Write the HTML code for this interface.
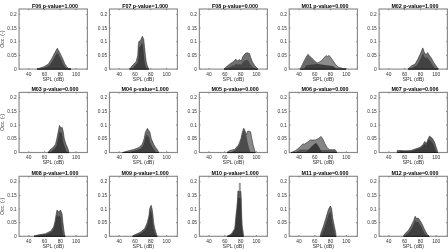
<!DOCTYPE html><html><head><meta charset="utf-8"><style>html,body{margin:0;padding:0;background:#fff;overflow:hidden}svg{display:block}text{font-family:"Liberation Sans",Arial,sans-serif;fill:#333}.t{fill:#000}</style></head><body>
<svg width="448" height="252" viewBox="0 0 448 252">
<rect width="448" height="252" fill="#fff"/>
<rect x="19.05" y="9" width="68.35" height="60.1" fill="none" stroke="#8a8a8a" stroke-width="1.15"/>
<path d="M19.05 69.1h1.2 M87.4 69.1h-1.2 M19.05 55.44h1.2 M87.4 55.44h-1.2 M19.05 41.78h1.2 M87.4 41.78h-1.2 M19.05 28.12h1.2 M87.4 28.12h-1.2 M19.05 14.46h1.2 M87.4 14.46h-1.2 M28.75 69.1v-1.2 M28.75 9v1.2 M44.55 69.1v-1.2 M44.55 9v1.2 M60.35 69.1v-1.2 M60.35 9v1.2 M76.15 69.1v-1.2 M76.15 9v1.2" stroke="#8a8a8a" stroke-width="1.15" fill="none"/>
<polygon points="37,69.1 44,66.7 48.4,64.1 51.6,59 54.8,52.7 57.3,48.3 59.8,52.7 62.8,59 64.9,64.1 66.8,66.7 68.1,68.3 71,69.1" fill="#6e6e6e" stroke="#2e2e2e" stroke-width="0.6" stroke-linejoin="round"/>
<polygon points="40.03,69.1 45.98,67.18 49.72,65.1 52.44,61.02 55.16,55.98 57.29,52.46 59.41,55.98 61.96,61.02 63.75,65.1 65.36,67.18 66.47,68.46 68.93,69.1" fill="#404040"/>
<path d="M37 69.1H71" stroke="#222" stroke-width="1.2"/>
<text x="16.75" y="69.1" font-size="4.85" text-anchor="end" dominant-baseline="central">0</text>
<text x="16.75" y="55.44" font-size="4.85" text-anchor="end" dominant-baseline="central">0.05</text>
<text x="16.75" y="41.78" font-size="4.85" text-anchor="end" dominant-baseline="central">0.1</text>
<text x="16.75" y="28.12" font-size="4.85" text-anchor="end" dominant-baseline="central">0.15</text>
<text x="16.75" y="14.46" font-size="4.85" text-anchor="end" dominant-baseline="central">0.2</text>
<text x="28.75" y="75.5" font-size="4.85" text-anchor="middle">40</text>
<text x="44.55" y="75.5" font-size="4.85" text-anchor="middle">60</text>
<text x="60.35" y="75.5" font-size="4.85" text-anchor="middle">80</text>
<text x="76.15" y="75.5" font-size="4.85" text-anchor="middle">100</text>
<text x="53.23" y="80.9" font-size="5.4" text-anchor="middle">SPL (dB)</text>
<text x="54.93" y="7.6" font-size="5.35" font-weight="bold" text-anchor="middle" class="t">F06 p-value=1.000</text>
<text transform="translate(4.4 39.15) rotate(-90)" font-size="5.15" text-anchor="middle">Occ. (-)</text>
<rect x="109.45" y="9" width="67.95" height="60.1" fill="none" stroke="#8a8a8a" stroke-width="1.15"/>
<path d="M109.45 69.1h1.2 M177.4 69.1h-1.2 M109.45 55.44h1.2 M177.4 55.44h-1.2 M109.45 41.78h1.2 M177.4 41.78h-1.2 M109.45 28.12h1.2 M177.4 28.12h-1.2 M109.45 14.46h1.2 M177.4 14.46h-1.2 M119.15 69.1v-1.2 M119.15 9v1.2 M134.95 69.1v-1.2 M134.95 9v1.2 M150.75 69.1v-1.2 M150.75 9v1.2 M166.55 69.1v-1.2 M166.55 9v1.2" stroke="#8a8a8a" stroke-width="1.15" fill="none"/>
<polygon points="129.5,69.1 132.8,65 136.2,61.7 137.8,55 138.2,46.7 138.7,41.7 140.5,40.5 142.3,36.3 143.7,39.2 144.5,46.7 145.3,55 146.2,61.7 147,65 148.7,69.1" fill="#6a6a6a" stroke="#2e2e2e" stroke-width="0.6" stroke-linejoin="round"/>
<polygon points="132.33,69.1 134.8,65.82 137.35,63.18 138.55,57.82 138.85,51.18 139.23,47.18 140.58,46.22 141.93,42.86 142.98,45.18 143.58,51.18 144.18,57.82 144.85,63.18 145.45,65.82 146.73,69.1" fill="#3c3c3c"/>
<path d="M129.5 69.1H148.7" stroke="#222" stroke-width="1.2"/>
<text x="107.15" y="69.1" font-size="4.85" text-anchor="end" dominant-baseline="central">0</text>
<text x="107.15" y="55.44" font-size="4.85" text-anchor="end" dominant-baseline="central">0.05</text>
<text x="107.15" y="41.78" font-size="4.85" text-anchor="end" dominant-baseline="central">0.1</text>
<text x="107.15" y="28.12" font-size="4.85" text-anchor="end" dominant-baseline="central">0.15</text>
<text x="107.15" y="14.46" font-size="4.85" text-anchor="end" dominant-baseline="central">0.2</text>
<text x="119.15" y="75.5" font-size="4.85" text-anchor="middle">40</text>
<text x="134.95" y="75.5" font-size="4.85" text-anchor="middle">60</text>
<text x="150.75" y="75.5" font-size="4.85" text-anchor="middle">80</text>
<text x="166.55" y="75.5" font-size="4.85" text-anchor="middle">100</text>
<text x="143.43" y="80.9" font-size="5.4" text-anchor="middle">SPL (dB)</text>
<text x="145.12" y="7.6" font-size="5.35" font-weight="bold" text-anchor="middle" class="t">F07 p-value=1.000</text>
<rect x="199.35" y="9" width="68.05" height="60.1" fill="none" stroke="#8a8a8a" stroke-width="1.15"/>
<path d="M199.35 69.1h1.2 M267.4 69.1h-1.2 M199.35 55.44h1.2 M267.4 55.44h-1.2 M199.35 41.78h1.2 M267.4 41.78h-1.2 M199.35 28.12h1.2 M267.4 28.12h-1.2 M199.35 14.46h1.2 M267.4 14.46h-1.2 M209.05 69.1v-1.2 M209.05 9v1.2 M224.85 69.1v-1.2 M224.85 9v1.2 M240.65 69.1v-1.2 M240.65 9v1.2 M256.45 69.1v-1.2 M256.45 9v1.2" stroke="#8a8a8a" stroke-width="1.15" fill="none"/>
<polygon points="224,69.1 227.5,65.8 229.9,64 233.5,61.5 235.8,59.2 237.6,61 239.4,59.6 241.2,61 243,56.3 245.3,53.5 247.1,52.7 249.5,53.5 250.7,57.5 252.5,62.2 254.9,65.8 257.8,69.1" fill="#707070" stroke="#2e2e2e" stroke-width="0.6" stroke-linejoin="round"/>
<polygon points="226.68,69.1 229.65,67.28 231.69,66.3 234.75,64.92 236.71,63.66 238.24,64.64 239.77,63.88 241.3,64.64 242.83,62.06 244.78,60.52 246.31,60.08 248.35,60.52 249.37,62.72 250.9,65.3 252.94,67.28 255.41,69.1" fill="#474747"/>
<path d="M224 69.1H257.8" stroke="#222" stroke-width="1.2"/>
<text x="197.05" y="69.1" font-size="4.85" text-anchor="end" dominant-baseline="central">0</text>
<text x="197.05" y="55.44" font-size="4.85" text-anchor="end" dominant-baseline="central">0.05</text>
<text x="197.05" y="41.78" font-size="4.85" text-anchor="end" dominant-baseline="central">0.1</text>
<text x="197.05" y="28.12" font-size="4.85" text-anchor="end" dominant-baseline="central">0.15</text>
<text x="197.05" y="14.46" font-size="4.85" text-anchor="end" dominant-baseline="central">0.2</text>
<text x="209.05" y="75.5" font-size="4.85" text-anchor="middle">40</text>
<text x="224.85" y="75.5" font-size="4.85" text-anchor="middle">60</text>
<text x="240.65" y="75.5" font-size="4.85" text-anchor="middle">80</text>
<text x="256.45" y="75.5" font-size="4.85" text-anchor="middle">100</text>
<text x="233.38" y="80.9" font-size="5.4" text-anchor="middle">SPL (dB)</text>
<text x="235.07" y="7.6" font-size="5.35" font-weight="bold" text-anchor="middle" class="t">F08 p-value=0.000</text>
<rect x="289.25" y="9" width="68.15" height="60.1" fill="none" stroke="#8a8a8a" stroke-width="1.15"/>
<path d="M289.25 69.1h1.2 M357.4 69.1h-1.2 M289.25 55.44h1.2 M357.4 55.44h-1.2 M289.25 41.78h1.2 M357.4 41.78h-1.2 M289.25 28.12h1.2 M357.4 28.12h-1.2 M289.25 14.46h1.2 M357.4 14.46h-1.2 M298.95 69.1v-1.2 M298.95 9v1.2 M314.75 69.1v-1.2 M314.75 9v1.2 M330.55 69.1v-1.2 M330.55 9v1.2 M346.35 69.1v-1.2 M346.35 9v1.2" stroke="#8a8a8a" stroke-width="1.15" fill="none"/>
<polygon points="300.2,69.1 302.6,64.1 305,59.3 307.8,54.4 311.7,58 315.3,61.7 317.7,62.9 321.3,61 324.9,56.8 326.1,55.6 327.6,56.5 329.1,55.4 332.1,59.3 335.2,64.1 338.2,67.1 344.2,68.9 346,69.1" fill="#8c8c8c" stroke="#2e2e2e" stroke-width="0.6" stroke-linejoin="round"/>
<polygon points="300.2,69.1 302.6,64.1 305,59.3 307.8,54.4 311.7,58 315.3,61.7 317.7,62.9 319,69.1" fill="#6a6a6a"/>
<polygon points="304,69.1 306,65.5 312,64.5 318,64 325,65 333,66 337,69.1" fill="#3e3e3e"/>
<path d="M300.2 69.1H346" stroke="#222" stroke-width="1.2"/>
<text x="286.95" y="69.1" font-size="4.85" text-anchor="end" dominant-baseline="central">0</text>
<text x="286.95" y="55.44" font-size="4.85" text-anchor="end" dominant-baseline="central">0.05</text>
<text x="286.95" y="41.78" font-size="4.85" text-anchor="end" dominant-baseline="central">0.1</text>
<text x="286.95" y="28.12" font-size="4.85" text-anchor="end" dominant-baseline="central">0.15</text>
<text x="286.95" y="14.46" font-size="4.85" text-anchor="end" dominant-baseline="central">0.2</text>
<text x="298.95" y="75.5" font-size="4.85" text-anchor="middle">40</text>
<text x="314.75" y="75.5" font-size="4.85" text-anchor="middle">60</text>
<text x="330.55" y="75.5" font-size="4.85" text-anchor="middle">80</text>
<text x="346.35" y="75.5" font-size="4.85" text-anchor="middle">100</text>
<text x="323.32" y="80.9" font-size="5.4" text-anchor="middle">SPL (dB)</text>
<text x="325.02" y="7.6" font-size="5.35" font-weight="bold" text-anchor="middle" class="t">M01 p-value=0.000</text>
<rect x="379.1" y="9" width="68.3" height="60.1" fill="none" stroke="#8a8a8a" stroke-width="1.15"/>
<path d="M379.1 69.1h1.2 M447.4 69.1h-1.2 M379.1 55.44h1.2 M447.4 55.44h-1.2 M379.1 41.78h1.2 M447.4 41.78h-1.2 M379.1 28.12h1.2 M447.4 28.12h-1.2 M379.1 14.46h1.2 M447.4 14.46h-1.2 M388.8 69.1v-1.2 M388.8 9v1.2 M404.6 69.1v-1.2 M404.6 9v1.2 M420.4 69.1v-1.2 M420.4 9v1.2 M436.2 69.1v-1.2 M436.2 9v1.2" stroke="#8a8a8a" stroke-width="1.15" fill="none"/>
<polygon points="408,69.1 411.5,65.8 415.1,64 417.5,59.8 419.8,55.1 421.3,51.5 422.8,47.9 424,51.5 425.8,55.1 427.6,52.5 429,55 431.7,58.6 433.5,62.2 436.5,66.4 438.3,69.1" fill="#707070" stroke="#2e2e2e" stroke-width="0.6" stroke-linejoin="round"/>
<polygon points="411.23,69.1 414.03,66.62 416.91,65.28 418.83,62.12 420.67,58.6 421.87,55.9 423.07,53.2 424.03,55.9 425.47,58.6 426.91,56.65 428.03,58.52 430.19,61.23 431.63,63.92 434.03,67.08 435.47,69.1" fill="#424242"/>
<path d="M408 69.1H438.3" stroke="#222" stroke-width="1.2"/>
<text x="376.8" y="69.1" font-size="4.85" text-anchor="end" dominant-baseline="central">0</text>
<text x="376.8" y="55.44" font-size="4.85" text-anchor="end" dominant-baseline="central">0.05</text>
<text x="376.8" y="41.78" font-size="4.85" text-anchor="end" dominant-baseline="central">0.1</text>
<text x="376.8" y="28.12" font-size="4.85" text-anchor="end" dominant-baseline="central">0.15</text>
<text x="376.8" y="14.46" font-size="4.85" text-anchor="end" dominant-baseline="central">0.2</text>
<text x="388.8" y="75.5" font-size="4.85" text-anchor="middle">40</text>
<text x="404.6" y="75.5" font-size="4.85" text-anchor="middle">60</text>
<text x="420.4" y="75.5" font-size="4.85" text-anchor="middle">80</text>
<text x="436.2" y="75.5" font-size="4.85" text-anchor="middle">100</text>
<text x="413.25" y="80.9" font-size="5.4" text-anchor="middle">SPL (dB)</text>
<text x="414.95" y="7.6" font-size="5.35" font-weight="bold" text-anchor="middle" class="t">M02 p-value=1.000</text>
<rect x="19.05" y="92.4" width="68.35" height="60.1" fill="none" stroke="#8a8a8a" stroke-width="1.15"/>
<path d="M19.05 152.5h1.2 M87.4 152.5h-1.2 M19.05 138.84h1.2 M87.4 138.84h-1.2 M19.05 125.18h1.2 M87.4 125.18h-1.2 M19.05 111.52h1.2 M87.4 111.52h-1.2 M19.05 97.86h1.2 M87.4 97.86h-1.2 M28.75 152.5v-1.2 M28.75 92.4v1.2 M44.55 152.5v-1.2 M44.55 92.4v1.2 M60.35 152.5v-1.2 M60.35 92.4v1.2 M76.15 152.5v-1.2 M76.15 92.4v1.2" stroke="#8a8a8a" stroke-width="1.15" fill="none"/>
<polygon points="48.1,152.5 50.1,149.7 52.8,147.7 55.5,144.3 56.8,138.9 58.2,132.1 59.5,125.4 60.8,128 62.2,127.4 63.3,132.1 64.3,138.9 66,144.3 67.6,147.7 69,152.5" fill="#6a6a6a" stroke="#2e2e2e" stroke-width="0.6" stroke-linejoin="round"/>
<polygon points="50.97,152.5 52.47,150.26 54.5,148.66 56.52,145.94 57.5,141.62 58.55,136.18 59.52,130.82 60.5,132.9 61.55,132.42 62.37,136.18 63.12,141.62 64.4,145.94 65.6,148.66 66.65,152.5" fill="#3c3c3c"/>
<path d="M48.1 152.5H69" stroke="#222" stroke-width="1.2"/>
<text x="16.75" y="152.5" font-size="4.85" text-anchor="end" dominant-baseline="central">0</text>
<text x="16.75" y="138.84" font-size="4.85" text-anchor="end" dominant-baseline="central">0.05</text>
<text x="16.75" y="125.18" font-size="4.85" text-anchor="end" dominant-baseline="central">0.1</text>
<text x="16.75" y="111.52" font-size="4.85" text-anchor="end" dominant-baseline="central">0.15</text>
<text x="16.75" y="97.86" font-size="4.85" text-anchor="end" dominant-baseline="central">0.2</text>
<text x="28.75" y="158.9" font-size="4.85" text-anchor="middle">40</text>
<text x="44.55" y="158.9" font-size="4.85" text-anchor="middle">60</text>
<text x="60.35" y="158.9" font-size="4.85" text-anchor="middle">80</text>
<text x="76.15" y="158.9" font-size="4.85" text-anchor="middle">100</text>
<text x="53.23" y="164.3" font-size="5.4" text-anchor="middle">SPL (dB)</text>
<text x="54.93" y="91" font-size="5.35" font-weight="bold" text-anchor="middle" class="t">M03 p-value=0.000</text>
<text transform="translate(4.4 122.55) rotate(-90)" font-size="5.15" text-anchor="middle">Occ. (-)</text>
<rect x="109.45" y="92.4" width="67.95" height="60.1" fill="none" stroke="#8a8a8a" stroke-width="1.15"/>
<path d="M109.45 152.5h1.2 M177.4 152.5h-1.2 M109.45 138.84h1.2 M177.4 138.84h-1.2 M109.45 125.18h1.2 M177.4 125.18h-1.2 M109.45 111.52h1.2 M177.4 111.52h-1.2 M109.45 97.86h1.2 M177.4 97.86h-1.2 M119.15 152.5v-1.2 M119.15 92.4v1.2 M134.95 152.5v-1.2 M134.95 92.4v1.2 M150.75 152.5v-1.2 M150.75 92.4v1.2 M166.55 152.5v-1.2 M166.55 92.4v1.2" stroke="#8a8a8a" stroke-width="1.15" fill="none"/>
<polygon points="122.5,152.5 127.6,151 134,149.4 139.1,147.4 142.3,144.3 144.2,138.5 145.4,132.2 147.4,128.4 149.9,132.2 151.2,138.5 153.7,144.3 155.6,147.4 157.5,150 158.8,152.5" fill="#6e6e6e" stroke="#2e2e2e" stroke-width="0.6" stroke-linejoin="round"/>
<polygon points="126.99,152.5 131.07,151.38 136.19,150.18 140.27,148.68 142.83,146.35 144.35,142 145.31,137.27 146.91,134.43 148.91,137.27 149.95,142 151.95,146.35 153.47,148.68 154.99,150.62 156.03,152.5" fill="#404040"/>
<path d="M122.5 152.5H158.8" stroke="#222" stroke-width="1.2"/>
<text x="107.15" y="152.5" font-size="4.85" text-anchor="end" dominant-baseline="central">0</text>
<text x="107.15" y="138.84" font-size="4.85" text-anchor="end" dominant-baseline="central">0.05</text>
<text x="107.15" y="125.18" font-size="4.85" text-anchor="end" dominant-baseline="central">0.1</text>
<text x="107.15" y="111.52" font-size="4.85" text-anchor="end" dominant-baseline="central">0.15</text>
<text x="107.15" y="97.86" font-size="4.85" text-anchor="end" dominant-baseline="central">0.2</text>
<text x="119.15" y="158.9" font-size="4.85" text-anchor="middle">40</text>
<text x="134.95" y="158.9" font-size="4.85" text-anchor="middle">60</text>
<text x="150.75" y="158.9" font-size="4.85" text-anchor="middle">80</text>
<text x="166.55" y="158.9" font-size="4.85" text-anchor="middle">100</text>
<text x="143.43" y="164.3" font-size="5.4" text-anchor="middle">SPL (dB)</text>
<text x="145.12" y="91" font-size="5.35" font-weight="bold" text-anchor="middle" class="t">M04 p-value=1.000</text>
<rect x="199.35" y="92.4" width="68.05" height="60.1" fill="none" stroke="#8a8a8a" stroke-width="1.15"/>
<path d="M199.35 152.5h1.2 M267.4 152.5h-1.2 M199.35 138.84h1.2 M267.4 138.84h-1.2 M199.35 125.18h1.2 M267.4 125.18h-1.2 M199.35 111.52h1.2 M267.4 111.52h-1.2 M199.35 97.86h1.2 M267.4 97.86h-1.2 M209.05 152.5v-1.2 M209.05 92.4v1.2 M224.85 152.5v-1.2 M224.85 92.4v1.2 M240.65 152.5v-1.2 M240.65 92.4v1.2 M256.45 152.5v-1.2 M256.45 92.4v1.2" stroke="#8a8a8a" stroke-width="1.15" fill="none"/>
<polygon points="227.1,152.5 229.6,150.6 234.7,149.3 238.5,144.9 241,138.5 242.3,132.2 243.8,128.3 245,131 246.4,134.7 247.4,131.5 248.7,131.1 250.6,131.8 251.8,138.5 253.1,144.9 254.4,149.3 255.3,152.5" fill="#8a8a8a" stroke="#2e2e2e" stroke-width="0.6" stroke-linejoin="round"/>
<polygon points="231,152.5 236,149 239.5,144 241.5,137 243.8,128.3 245.5,133 246.4,136 247.5,142 249,148 250.5,152.5" fill="#4c4c4c"/>
<path d="M227.1 152.5H255.3" stroke="#222" stroke-width="1.2"/>
<text x="197.05" y="152.5" font-size="4.85" text-anchor="end" dominant-baseline="central">0</text>
<text x="197.05" y="138.84" font-size="4.85" text-anchor="end" dominant-baseline="central">0.05</text>
<text x="197.05" y="125.18" font-size="4.85" text-anchor="end" dominant-baseline="central">0.1</text>
<text x="197.05" y="111.52" font-size="4.85" text-anchor="end" dominant-baseline="central">0.15</text>
<text x="197.05" y="97.86" font-size="4.85" text-anchor="end" dominant-baseline="central">0.2</text>
<text x="209.05" y="158.9" font-size="4.85" text-anchor="middle">40</text>
<text x="224.85" y="158.9" font-size="4.85" text-anchor="middle">60</text>
<text x="240.65" y="158.9" font-size="4.85" text-anchor="middle">80</text>
<text x="256.45" y="158.9" font-size="4.85" text-anchor="middle">100</text>
<text x="233.38" y="164.3" font-size="5.4" text-anchor="middle">SPL (dB)</text>
<text x="235.07" y="91" font-size="5.35" font-weight="bold" text-anchor="middle" class="t">M05 p-value=0.000</text>
<rect x="289.25" y="92.4" width="68.15" height="60.1" fill="none" stroke="#8a8a8a" stroke-width="1.15"/>
<path d="M289.25 152.5h1.2 M357.4 152.5h-1.2 M289.25 138.84h1.2 M357.4 138.84h-1.2 M289.25 125.18h1.2 M357.4 125.18h-1.2 M289.25 111.52h1.2 M357.4 111.52h-1.2 M289.25 97.86h1.2 M357.4 97.86h-1.2 M298.95 152.5v-1.2 M298.95 92.4v1.2 M314.75 152.5v-1.2 M314.75 92.4v1.2 M330.55 152.5v-1.2 M330.55 92.4v1.2 M346.35 152.5v-1.2 M346.35 92.4v1.2" stroke="#8a8a8a" stroke-width="1.15" fill="none"/>
<polygon points="291.2,152.5 296,150.3 299.6,147.3 303,143.7 304,144.5 306.9,142.5 310.5,140 313.5,140 315.5,140 318.9,138.2 321.1,136.4 323.1,139.4 324.9,143.7 327.3,147.9 329.8,149.7 335.2,149.7 337,152.5" fill="#858585" stroke="#2e2e2e" stroke-width="0.6" stroke-linejoin="round"/>
<polygon points="295,152.5 300,149.5 335,150.2 337,152.5" fill="#555"/>
<polygon points="306,152.5 312,146 316.1,142.8 319,147 322,152.5" fill="#383838"/>
<path d="M291.2 152.5H337" stroke="#222" stroke-width="1.2"/>
<text x="286.95" y="152.5" font-size="4.85" text-anchor="end" dominant-baseline="central">0</text>
<text x="286.95" y="138.84" font-size="4.85" text-anchor="end" dominant-baseline="central">0.05</text>
<text x="286.95" y="125.18" font-size="4.85" text-anchor="end" dominant-baseline="central">0.1</text>
<text x="286.95" y="111.52" font-size="4.85" text-anchor="end" dominant-baseline="central">0.15</text>
<text x="286.95" y="97.86" font-size="4.85" text-anchor="end" dominant-baseline="central">0.2</text>
<text x="298.95" y="158.9" font-size="4.85" text-anchor="middle">40</text>
<text x="314.75" y="158.9" font-size="4.85" text-anchor="middle">60</text>
<text x="330.55" y="158.9" font-size="4.85" text-anchor="middle">80</text>
<text x="346.35" y="158.9" font-size="4.85" text-anchor="middle">100</text>
<text x="323.32" y="164.3" font-size="5.4" text-anchor="middle">SPL (dB)</text>
<text x="325.02" y="91" font-size="5.35" font-weight="bold" text-anchor="middle" class="t">M06 p-value=0.000</text>
<rect x="379.1" y="92.4" width="68.3" height="60.1" fill="none" stroke="#8a8a8a" stroke-width="1.15"/>
<path d="M379.1 152.5h1.2 M447.4 152.5h-1.2 M379.1 138.84h1.2 M447.4 138.84h-1.2 M379.1 125.18h1.2 M447.4 125.18h-1.2 M379.1 111.52h1.2 M447.4 111.52h-1.2 M379.1 97.86h1.2 M447.4 97.86h-1.2 M388.8 152.5v-1.2 M388.8 92.4v1.2 M404.6 152.5v-1.2 M404.6 92.4v1.2 M420.4 152.5v-1.2 M420.4 92.4v1.2 M436.2 152.5v-1.2 M436.2 92.4v1.2" stroke="#8a8a8a" stroke-width="1.15" fill="none"/>
<polygon points="397.1,152.5 397.3,150.4 405,150.8 410.7,150.6 414.6,149.2 419.7,147.5 423,144.7 424.7,141.4 426.4,143.6 427.5,140.3 429.5,136 432.5,138.6 434.7,142.5 435.9,146.4 437,149.8 437.8,152.5" fill="#5e5e5e" stroke="#2e2e2e" stroke-width="0.6" stroke-linejoin="round"/>
<polygon points="399.6,152.5 399.78,150.82 406.71,151.14 411.84,150.98 415.35,149.86 419.94,148.5 422.91,146.26 424.44,143.62 425.97,145.38 426.96,142.74 428.76,139.3 431.46,141.38 433.44,144.5 434.52,147.62 435.51,150.34 436.23,152.5" fill="#3c3c3c"/>
<path d="M397.1 152.5H437.8" stroke="#222" stroke-width="1.2"/>
<text x="376.8" y="152.5" font-size="4.85" text-anchor="end" dominant-baseline="central">0</text>
<text x="376.8" y="138.84" font-size="4.85" text-anchor="end" dominant-baseline="central">0.05</text>
<text x="376.8" y="125.18" font-size="4.85" text-anchor="end" dominant-baseline="central">0.1</text>
<text x="376.8" y="111.52" font-size="4.85" text-anchor="end" dominant-baseline="central">0.15</text>
<text x="376.8" y="97.86" font-size="4.85" text-anchor="end" dominant-baseline="central">0.2</text>
<text x="388.8" y="158.9" font-size="4.85" text-anchor="middle">40</text>
<text x="404.6" y="158.9" font-size="4.85" text-anchor="middle">60</text>
<text x="420.4" y="158.9" font-size="4.85" text-anchor="middle">80</text>
<text x="436.2" y="158.9" font-size="4.85" text-anchor="middle">100</text>
<text x="413.25" y="164.3" font-size="5.4" text-anchor="middle">SPL (dB)</text>
<text x="414.95" y="91" font-size="5.35" font-weight="bold" text-anchor="middle" class="t">M07 p-value=0.006</text>
<rect x="19.05" y="176.3" width="68.35" height="60" fill="none" stroke="#8a8a8a" stroke-width="1.15"/>
<path d="M19.05 236.3h1.2 M87.4 236.3h-1.2 M19.05 222.66h1.2 M87.4 222.66h-1.2 M19.05 209.03h1.2 M87.4 209.03h-1.2 M19.05 195.39h1.2 M87.4 195.39h-1.2 M19.05 181.75h1.2 M87.4 181.75h-1.2 M28.75 236.3v-1.2 M28.75 176.3v1.2 M44.55 236.3v-1.2 M44.55 176.3v1.2 M60.35 236.3v-1.2 M60.35 176.3v1.2 M76.15 236.3v-1.2 M76.15 176.3v1.2" stroke="#8a8a8a" stroke-width="1.15" fill="none"/>
<polygon points="34,236.3 37.4,235.1 45.5,233.7 50.9,231 53.6,227 55,221.6 56.1,214.8 57,210.1 58.8,212.1 60.4,210.1 62,213.5 62.8,221.6 63.8,229.7 64.4,233.7 65.1,236.3" fill="#626262" stroke="#2e2e2e" stroke-width="0.6" stroke-linejoin="round"/>
<polygon points="37.17,236.3 40.06,235.34 46.94,234.22 51.53,232.06 53.83,228.86 55.02,224.54 55.95,219.1 56.72,215.34 58.25,216.94 59.61,215.34 60.97,218.06 61.65,224.54 62.5,231.02 63.01,234.22 63.6,236.3" fill="#3c3c3c"/>
<path d="M34 236.3H65.1" stroke="#222" stroke-width="1.2"/>
<text x="16.75" y="236.3" font-size="4.85" text-anchor="end" dominant-baseline="central">0</text>
<text x="16.75" y="222.66" font-size="4.85" text-anchor="end" dominant-baseline="central">0.05</text>
<text x="16.75" y="209.03" font-size="4.85" text-anchor="end" dominant-baseline="central">0.1</text>
<text x="16.75" y="195.39" font-size="4.85" text-anchor="end" dominant-baseline="central">0.15</text>
<text x="16.75" y="181.75" font-size="4.85" text-anchor="end" dominant-baseline="central">0.2</text>
<text x="28.75" y="242.7" font-size="4.85" text-anchor="middle">40</text>
<text x="44.55" y="242.7" font-size="4.85" text-anchor="middle">60</text>
<text x="60.35" y="242.7" font-size="4.85" text-anchor="middle">80</text>
<text x="76.15" y="242.7" font-size="4.85" text-anchor="middle">100</text>
<text x="53.23" y="248.1" font-size="5.4" text-anchor="middle">SPL (dB)</text>
<text x="54.93" y="174.9" font-size="5.35" font-weight="bold" text-anchor="middle" class="t">M08 p-value=1.000</text>
<text transform="translate(4.4 206.4) rotate(-90)" font-size="5.15" text-anchor="middle">Occ. (-)</text>
<rect x="109.45" y="176.3" width="67.95" height="60" fill="none" stroke="#8a8a8a" stroke-width="1.15"/>
<path d="M109.45 236.3h1.2 M177.4 236.3h-1.2 M109.45 222.66h1.2 M177.4 222.66h-1.2 M109.45 209.03h1.2 M177.4 209.03h-1.2 M109.45 195.39h1.2 M177.4 195.39h-1.2 M109.45 181.75h1.2 M177.4 181.75h-1.2 M119.15 236.3v-1.2 M119.15 176.3v1.2 M134.95 236.3v-1.2 M134.95 176.3v1.2 M150.75 236.3v-1.2 M150.75 176.3v1.2 M166.55 236.3v-1.2 M166.55 176.3v1.2" stroke="#8a8a8a" stroke-width="1.15" fill="none"/>
<polygon points="132.5,236.3 134.8,234.7 140.1,232.4 144.6,228.7 147.3,222.6 149.1,215.1 149.6,209 151.1,205.3 152.1,209 152.9,215.1 153.6,222.6 154.8,228.7 155.9,232.4 156.7,234.7 157.2,236.3" fill="#626262" stroke="#2e2e2e" stroke-width="0.6" stroke-linejoin="round"/>
<polygon points="134.95,236.3 136.9,234.94 141.41,232.99 145.23,229.84 147.53,224.66 149.06,218.28 149.48,213.09 150.76,209.95 151.61,213.09 152.29,218.28 152.88,224.66 153.9,229.84 154.84,232.99 155.52,234.94 155.94,236.3" fill="#3c3c3c"/>
<path d="M132.5 236.3H157.2" stroke="#222" stroke-width="1.2"/>
<text x="107.15" y="236.3" font-size="4.85" text-anchor="end" dominant-baseline="central">0</text>
<text x="107.15" y="222.66" font-size="4.85" text-anchor="end" dominant-baseline="central">0.05</text>
<text x="107.15" y="209.03" font-size="4.85" text-anchor="end" dominant-baseline="central">0.1</text>
<text x="107.15" y="195.39" font-size="4.85" text-anchor="end" dominant-baseline="central">0.15</text>
<text x="107.15" y="181.75" font-size="4.85" text-anchor="end" dominant-baseline="central">0.2</text>
<text x="119.15" y="242.7" font-size="4.85" text-anchor="middle">40</text>
<text x="134.95" y="242.7" font-size="4.85" text-anchor="middle">60</text>
<text x="150.75" y="242.7" font-size="4.85" text-anchor="middle">80</text>
<text x="166.55" y="242.7" font-size="4.85" text-anchor="middle">100</text>
<text x="143.43" y="248.1" font-size="5.4" text-anchor="middle">SPL (dB)</text>
<text x="145.12" y="174.9" font-size="5.35" font-weight="bold" text-anchor="middle" class="t">M09 p-value=1.000</text>
<rect x="199.35" y="176.3" width="68.05" height="60" fill="none" stroke="#8a8a8a" stroke-width="1.15"/>
<path d="M199.35 236.3h1.2 M267.4 236.3h-1.2 M199.35 222.66h1.2 M267.4 222.66h-1.2 M199.35 209.03h1.2 M267.4 209.03h-1.2 M199.35 195.39h1.2 M267.4 195.39h-1.2 M199.35 181.75h1.2 M267.4 181.75h-1.2 M209.05 236.3v-1.2 M209.05 176.3v1.2 M224.85 236.3v-1.2 M224.85 176.3v1.2 M240.65 236.3v-1.2 M240.65 176.3v1.2 M256.45 236.3v-1.2 M256.45 176.3v1.2" stroke="#8a8a8a" stroke-width="1.15" fill="none"/>
<polygon points="227.2,236.3 230.5,234.5 232,232.9 234.5,229 235.1,225.7 236,215 236.7,209 237.5,200 237.9,191.1 240.8,191.1 241.3,200 241.5,209 241.8,218 242.2,225.7 243.2,232.9 243.6,236.3" fill="#5a5a5a" stroke="#2e2e2e" stroke-width="0.6" stroke-linejoin="round"/>
<polygon points="228.24,236.3 231.21,234.77 232.56,233.41 234.81,230.09 235.35,227.29 236.16,218.19 236.79,213.09 237.51,205.44 237.87,197.88 240.48,197.88 240.93,205.44 241.11,213.09 241.38,220.75 241.74,227.29 242.64,233.41 243,236.3" fill="#383838"/>
<path d="M227.2 236.3H243.6" stroke="#222" stroke-width="1.2"/>
<rect x="238.8" y="182.8" width="2" height="8.5" fill="#999"/>
<text x="197.05" y="236.3" font-size="4.85" text-anchor="end" dominant-baseline="central">0</text>
<text x="197.05" y="222.66" font-size="4.85" text-anchor="end" dominant-baseline="central">0.05</text>
<text x="197.05" y="209.03" font-size="4.85" text-anchor="end" dominant-baseline="central">0.1</text>
<text x="197.05" y="195.39" font-size="4.85" text-anchor="end" dominant-baseline="central">0.15</text>
<text x="197.05" y="181.75" font-size="4.85" text-anchor="end" dominant-baseline="central">0.2</text>
<text x="209.05" y="242.7" font-size="4.85" text-anchor="middle">40</text>
<text x="224.85" y="242.7" font-size="4.85" text-anchor="middle">60</text>
<text x="240.65" y="242.7" font-size="4.85" text-anchor="middle">80</text>
<text x="256.45" y="242.7" font-size="4.85" text-anchor="middle">100</text>
<text x="233.38" y="248.1" font-size="5.4" text-anchor="middle">SPL (dB)</text>
<text x="235.07" y="174.9" font-size="5.35" font-weight="bold" text-anchor="middle" class="t">M10 p-value=1.000</text>
<rect x="289.25" y="176.3" width="68.15" height="60" fill="none" stroke="#8a8a8a" stroke-width="1.15"/>
<path d="M289.25 236.3h1.2 M357.4 236.3h-1.2 M289.25 222.66h1.2 M357.4 222.66h-1.2 M289.25 209.03h1.2 M357.4 209.03h-1.2 M289.25 195.39h1.2 M357.4 195.39h-1.2 M289.25 181.75h1.2 M357.4 181.75h-1.2 M298.95 236.3v-1.2 M298.95 176.3v1.2 M314.75 236.3v-1.2 M314.75 176.3v1.2 M330.55 236.3v-1.2 M330.55 176.3v1.2 M346.35 236.3v-1.2 M346.35 176.3v1.2" stroke="#8a8a8a" stroke-width="1.15" fill="none"/>
<polygon points="320.3,236.3 321,232.7 323.5,226 326,217.7 328.5,209.3 330.4,206 331.6,208.5 332.7,218 334.3,226 335.7,232.7 336.1,236.3" fill="#686868" stroke="#2e2e2e" stroke-width="0.6" stroke-linejoin="round"/>
<polygon points="321.62,236.3 322.21,233.42 324.34,228.06 326.46,221.42 328.59,214.7 330.2,212.06 331.23,214.06 332.16,221.66 333.52,228.06 334.71,233.42 335.05,236.3" fill="#404040"/>
<path d="M320.3 236.3H336.1" stroke="#222" stroke-width="1.2"/>
<text x="286.95" y="236.3" font-size="4.85" text-anchor="end" dominant-baseline="central">0</text>
<text x="286.95" y="222.66" font-size="4.85" text-anchor="end" dominant-baseline="central">0.05</text>
<text x="286.95" y="209.03" font-size="4.85" text-anchor="end" dominant-baseline="central">0.1</text>
<text x="286.95" y="195.39" font-size="4.85" text-anchor="end" dominant-baseline="central">0.15</text>
<text x="286.95" y="181.75" font-size="4.85" text-anchor="end" dominant-baseline="central">0.2</text>
<text x="298.95" y="242.7" font-size="4.85" text-anchor="middle">40</text>
<text x="314.75" y="242.7" font-size="4.85" text-anchor="middle">60</text>
<text x="330.55" y="242.7" font-size="4.85" text-anchor="middle">80</text>
<text x="346.35" y="242.7" font-size="4.85" text-anchor="middle">100</text>
<text x="323.32" y="248.1" font-size="5.4" text-anchor="middle">SPL (dB)</text>
<text x="325.02" y="174.9" font-size="5.35" font-weight="bold" text-anchor="middle" class="t">M11 p-value=0.000</text>
<rect x="379.1" y="176.3" width="68.3" height="60" fill="none" stroke="#8a8a8a" stroke-width="1.15"/>
<path d="M379.1 236.3h1.2 M447.4 236.3h-1.2 M379.1 222.66h1.2 M447.4 222.66h-1.2 M379.1 209.03h1.2 M447.4 209.03h-1.2 M379.1 195.39h1.2 M447.4 195.39h-1.2 M379.1 181.75h1.2 M447.4 181.75h-1.2 M388.8 236.3v-1.2 M388.8 176.3v1.2 M404.6 236.3v-1.2 M404.6 176.3v1.2 M420.4 236.3v-1.2 M420.4 176.3v1.2 M436.2 236.3v-1.2 M436.2 176.3v1.2" stroke="#8a8a8a" stroke-width="1.15" fill="none"/>
<polygon points="403.4,236.3 405.1,233.6 408.7,230 411.1,225.8 413.5,221.1 414.5,218 415.2,216.3 416.5,218.5 418.2,218.1 420,220.5 421.8,223.5 424.8,230 427.1,234.2 429.2,236.3" fill="#6a6a6a" stroke="#2e2e2e" stroke-width="0.6" stroke-linejoin="round"/>
<polygon points="405.34,236.3 406.79,234.14 409.85,231.26 411.89,227.9 413.93,224.14 414.78,221.66 415.37,220.3 416.48,222.06 417.92,221.74 419.45,223.66 420.98,226.06 423.53,231.26 425.49,234.62 427.27,236.3" fill="#404040"/>
<path d="M403.4 236.3H429.2" stroke="#222" stroke-width="1.2"/>
<text x="376.8" y="236.3" font-size="4.85" text-anchor="end" dominant-baseline="central">0</text>
<text x="376.8" y="222.66" font-size="4.85" text-anchor="end" dominant-baseline="central">0.05</text>
<text x="376.8" y="209.03" font-size="4.85" text-anchor="end" dominant-baseline="central">0.1</text>
<text x="376.8" y="195.39" font-size="4.85" text-anchor="end" dominant-baseline="central">0.15</text>
<text x="376.8" y="181.75" font-size="4.85" text-anchor="end" dominant-baseline="central">0.2</text>
<text x="388.8" y="242.7" font-size="4.85" text-anchor="middle">40</text>
<text x="404.6" y="242.7" font-size="4.85" text-anchor="middle">60</text>
<text x="420.4" y="242.7" font-size="4.85" text-anchor="middle">80</text>
<text x="436.2" y="242.7" font-size="4.85" text-anchor="middle">100</text>
<text x="413.25" y="248.1" font-size="5.4" text-anchor="middle">SPL (dB)</text>
<text x="414.95" y="174.9" font-size="5.35" font-weight="bold" text-anchor="middle" class="t">M12 p-value=0.000</text>
</svg></body></html>
